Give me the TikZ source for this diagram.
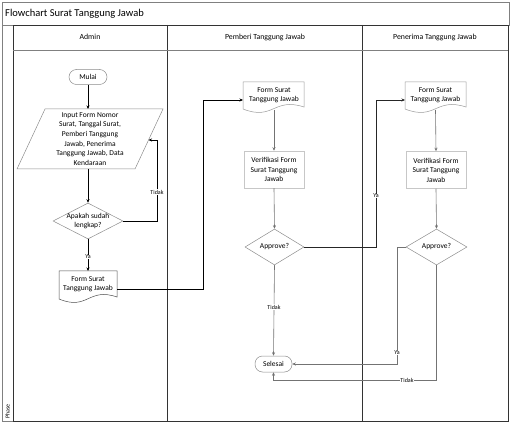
\documentclass[tikz,border=0pt]{standalone}
\usepackage{fontspec}
\setmainfont{Carlito}
\usetikzlibrary{shapes.geometric,arrows.meta,calc}
\newcommand{\mydocshape}[5][]{%
  \draw[#1] (#2,#4) -- (#3,#4) -- (#3,#5-1)
    .. controls ($(#2,#5)!0.5!(#3,#5)+(0,-11)$) and ($(#2,#5)!0.5!(#3,#5)+(0,13)$) .. (#2,#5+1) -- cycle;}
\begin{document}
\begin{tikzpicture}[x=1pt,y=-1pt,
  box/.style={draw=black!45, line width=0.5pt, font=\fontsize{7.5}{9.5}\selectfont, align=center, inner sep=1pt},
  term/.style={box, rounded corners=7.5pt, minimum width=38pt, minimum height=15pt},
  proc/.style={box, draw=black!22, minimum width=60pt, minimum height=37pt},
  dec/.style={diamond, draw=black!45, line width=0.5pt, inner sep=0pt},
  txt/.style={font=\fontsize{7.5}{9.5}\selectfont, align=center, inner sep=0pt},
  arr/.style={-{Stealth[length=3.5pt,width=3pt]}, line width=0.6pt},
  garr/.style={arr, draw=black!55},
  lbl/.style={font=\fontsize{6}{7}\selectfont, fill=white, inner sep=0.5pt},
  lane/.style={draw=black!80, line width=0.8pt},
  frame/.style={draw=black!50, line width=0.6pt},
  hdr/.style={font=\fontsize{7.8}{9}\selectfont, inner sep=0pt}
]
\useasboundingbox (0,0) rectangle (512,425);
% frame
\draw[frame] (2,2) rectangle (509,25);
\node[font=\fontsize{10.5}{12}\selectfont, anchor=west, inner sep=0pt] (title) at (5,14) {Flowchart Surat Tanggung Jawab};
\draw[frame] (2,25) -- (2,421) -- (13,421);
\draw[lane] (13,25) rectangle (508,421);
\draw[lane] (167,25) -- (167,421);
\draw[lane] (362,25) -- (362,421);
\draw[frame] (13,50) -- (508,50);
\node[hdr] (hA) at (90,37) {Admin};
\node[hdr] (hP) at (265,37) {Pemberi Tanggung Jawab};
\node[hdr] (hR) at (435,37) {Penerima Tanggung Jawab};
\node[rotate=90, font=\fontsize{6}{7}\selectfont, anchor=west, inner sep=0pt] (phase) at (7.5,419) {Phase};

% Admin lane
\node[term] (mulai) at (88,77) {Mulai};
\draw[draw=black!45, line width=0.5pt] (45,109) -- (163,109) -- (135,169) -- (17,169) -- cycle;
\node[txt, font=\fontsize{7.5}{9.6}\selectfont] (input) at (90,139) {Input Form Nomor\\Surat, Tanggal Surat,\\Pemberi Tanggung\\Jawab, Penerima\\Tanggung Jawab, Data\\Kendaraan};
\coordinate (intop) at (88,109);
\coordinate (inbot) at (88,169);
\coordinate (inright) at (148.5,140);
\coordinate (tk1) at (157,140);
\node[dec, minimum width=70pt, minimum height=36pt,
  label={[txt]center:{Apakah sudah\\lengkap?}}] (cek) at (88,221) {};
\mydocshape[draw=black!70, line width=0.5pt]{59}{117}{271}{298}
\node[txt] (adoc) at (88,284) {Form Surat\\Tanggung Jawab};
\coordinate (adoctop) at (88,271);
\coordinate (adocr) at (117,289);
\coordinate (c1) at (203,289);
\coordinate (c2) at (203,100);

\draw[arr] (mulai) -- (intop);
\draw[arr] (inbot) -- (cek.north);
\draw[arr] (cek.east) -| (tk1) -- (inright);
\node[lbl] (lt1) at (157,192) {Tidak};
\draw[arr] (cek.south) -- (adoctop);
\node[lbl] (ly1) at (88,257) {Ya};

% Pemberi lane
\mydocshape[draw=black!40, line width=0.5pt]{243}{304}{82}{108}
\node[txt] (pdoc) at (274,95) {Form Surat\\Tanggung Jawab};
\coordinate (pdocl) at (243,100);
\coordinate (pdocb) at (274,110);
\node[proc] (pver) at (274,169.5) {Verifikasi Form\\Surat Tanggung\\Jawab};
\node[dec, minimum width=59pt, minimum height=36pt,
  label={[txt]center:Approve?}] (papp) at (274.5,247) {};
\node[term, minimum width=37pt, minimum height=16pt] (sel) at (273.5,364) {Selesai};
\coordinate (c3) at (376,247);
\coordinate (c4) at (376,100);

\draw[arr] (adocr) -- (c1) -- (c2) -- (pdocl);
\draw[garr] (pdocb) -- (pver.north);
\draw[garr] (pver.south) -- (papp.north);
\draw[garr] (papp.south) -- (sel.north);
\node[lbl] (lt2) at (274,307) {Tidak};

% Penerima lane
\mydocshape[draw=black!40, line width=0.5pt]{405}{466}{82}{108}
\node[txt] (rdoc) at (435.5,95) {Form Surat\\Tanggung Jawab};
\coordinate (rdocl) at (405,100);
\coordinate (rdocb) at (435.5,110);
\node[proc] (rver) at (436,170) {Verifikasi Form\\Surat Tanggung\\Jawab};
\node[dec, minimum width=61pt, minimum height=36pt,
  label={[txt]center:Approve?}] (rapp) at (436.5,247) {};
\coordinate (c5) at (397,247);
\coordinate (c6) at (397,364);
\coordinate (c7) at (436.5,380);
\coordinate (c8) at (273.5,380);

\draw[arr, draw=black!85] (papp.east) -- (c3) -- (c4) -- (rdocl);
\node[lbl] (ly2) at (376,196) {Ya};
\draw[garr] (rdocb) -- (rver.north);
\draw[garr] (rver.south) -- (rapp.north);
\draw[garr] (rapp.west) -- (c5) -- (c6) -- (sel.east);
\node[lbl] (ly3) at (397,353) {Ya};
\draw[garr] (rapp.south) -- (c7) -- (c8) -- (sel.south);
\node[lbl] (lt3) at (407,380) {Tidak};
\end{tikzpicture}
\end{document}
